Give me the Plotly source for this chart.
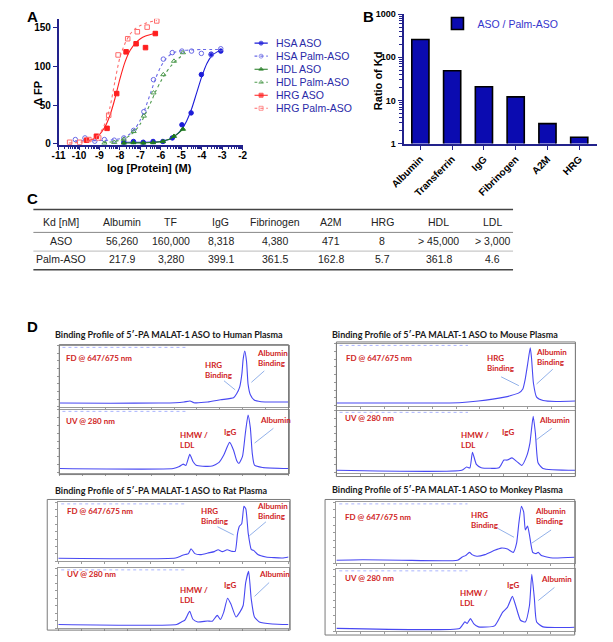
import math
import plotly.graph_objects as go

W, H = 613, 642
FONT = "Liberation Sans, Arial, sans-serif"
DFONT = "Lato, Open Sans, sans-serif"
NAVY = "#22228c"

# ---------------- Panel A data: binding curves ----------------
hsa_aso_x = [-7.81, -7.34, -6.86, -6.38, -5.90, -5.44, -4.97, -4.52, -4.02, -3.54, -3.07]
hsa_aso_y = [2, 3, 2, 3, 3, 7.6, 24.6, 40, 89.6, 116, 120]
hsa_palm_x = [-10.18, -9.71, -9.23, -8.76, -8.28, -7.81, -7.33, -6.83, -6.36, -5.88, -5.44, -4.97, -4.50, -4.02, -3.54, -3.07]
hsa_palm_y = [5.5, 7.6, 3.4, 5.5, 4.7, 7.6, 17.4, 41.6, 83, 109.6, 118, 120, 120, 117, 115, 123]
hdl_aso_x = [-7.81, -7.34, -6.86, -6.38, -5.90, -5.36, -4.92]
hdl_aso_y = [1, 1.5, 1, 1.5, 3, 9.8, 19]
hdl_palm_x = [-8.76, -8.28, -7.81, -7.33, -6.83, -6.36, -5.88, -5.36, -4.92]
hdl_palm_y = [1, 2, 6, 16, 36, 66, 89.6, 107, 118]
hrg_aso_x = [-9.63, -9.15, -8.63, -8.16, -7.70, -7.21, -6.75, -6.27]
hrg_aso_y = [4.7, 9.8, 20, 65, 119, 129.5, 124.5, 142.7]
hrg_palm_x = [-10.46, -9.97, -9.52, -9.04, -8.55, -8.09, -7.62, -7.15, -6.67, -6.20]
hrg_palm_y = [2, 2, 5.5, 7.6, 37, 115, 136, 145, 151, 159]

# fitted curves
hsa_aso_fit_x = [-7.8, -7, -6.5, -6, -5.75, -5.5, -5.25, -5, -4.75, -4.5, -4.25, -4, -3.75, -3.5, -3.25, -3.07]
hsa_aso_fit_y = [2, 2, 2.3, 3, 4.5, 7, 11.5, 18, 29, 45, 66, 87, 104, 114, 119, 121]
hsa_palm_fit_x = [-10.2, -9, -8.5, -8, -7.75, -7.5, -7.25, -7, -6.75, -6.5, -6.25, -6, -5.75, -5.5, -5.25, -5, -4.5, -4, -3.5, -3.07]
hsa_palm_fit_y = [4, 4.2, 4.8, 6.5, 9, 13, 20, 31, 47, 66, 85, 100, 110, 116, 119, 120.5, 121.5, 122, 122, 122]
hdl_aso_fit_x = [-7.8, -7, -6.5, -6, -5.75, -5.5, -5.25, -5, -4.92]
hdl_aso_fit_y = [1, 1.2, 1.6, 2.8, 4.5, 7.3, 11.5, 17, 19.5]
hdl_palm_fit_x = [-8.8, -8.5, -8, -7.75, -7.5, -7.25, -7, -6.75, -6.5, -6.25, -6, -5.75, -5.5, -5.25, -4.92]
hdl_palm_fit_y = [1.5, 2.2, 4.5, 7, 11, 17, 26, 39, 53, 68, 81, 92, 101, 108, 115]
hrg_aso_fit_x = [-9.7, -9.5, -9.25, -9, -8.75, -8.5, -8.25, -8, -7.75, -7.5, -7.25, -7, -6.75, -6.5, -6.27]
hrg_aso_fit_y = [3, 4.5, 7, 12, 21, 36, 58, 84, 106, 121, 130, 136, 139.5, 141.5, 143]
hrg_palm_fit_x = [-10.5, -10, -9.5, -9.25, -9, -8.75, -8.5, -8.25, -8, -7.75, -7.5, -7.25, -7, -6.75, -6.5, -6.2]
hrg_palm_fit_y = [1, 1.8, 4, 7, 13, 25, 46, 80, 112, 130, 142, 149, 153, 156, 158, 159.5]

a_xticks = [-11, -10, -9, -8, -7, -6, -5, -4, -3, -2]
a_yticks = [0, 50, 100, 150]

# ---------------- Panel B data ----------------
ratio_categories = ["Albumin", "Transferrin", "IgG", "Fibrinogen", "A2M", "HRG"]
ratio_values = [258, 48.8, 20.8, 12.1, 2.89, 1.40]
b_yticks = [1, 10, 100, 1000]

# ---------------- Panel C data ----------------
table_header = ["Kd [nM]", "Albumin", "TF", "IgG", "Fibrinogen", "A2M", "HRG", "HDL", "LDL"]
table_aso = ["ASO", "56,260", "160,000", "8,318", "4,380", "471", "8", "> 45,000", "> 3,000"]
table_palm = ["Palm-ASO", "217.9", "3,280", "399.1", "361.5", "162.8", "5.7", "361.8", "4.6"]

# ---------------- Panel D data (retention position 0-30, relative signal 0-100) ----------------
human_fd_x = [0, 6.7, 13.0, 15.2, 16.3, 17.1, 17.6, 19.4, 21.1, 22.8, 23.2, 23.6, 23.9, 24.05, 24.27, 24.5, 24.7, 25.0, 25.5, 26.4, 28.3, 30]
human_fd_y = [6.0, 5.6, 6.0, 6.5, 7.6, 9.2, 6.5, 7.6, 11.3, 14.5, 21, 32, 55, 77, 91, 74, 37, 19.4, 10.8, 8.1, 7.6, 7.6]
human_uv_x = [0, 14.9, 15.7, 16.2, 16.55, 17.06, 17.48, 17.9, 18.76, 20.0, 20.9, 21.5, 22.28, 22.8, 23.2, 23.5, 23.97, 24.35, 24.7, 25.0, 25.25, 25.54, 26.6, 30]
human_uv_y = [6.5, 6.5, 9.7, 13.4, 11.3, 29, 17.7, 11.8, 10.2, 10.5, 16.1, 27.4, 47.9, 35.5, 19.4, 14.5, 25.8, 62.9, 91.3, 71, 30.6, 11.8, 8.1, 6.5]
mouse_fd_x = [0, 8.2, 15.4, 17.8, 21.1, 21.9, 22.9, 23.4, 23.7, 24.0, 24.33, 24.49, 24.73, 25.13, 25.95, 27.57, 30]
mouse_fd_y = [4.3, 4.3, 4.8, 7.5, 13.8, 16.3, 20.6, 27, 42.9, 66.7, 93.2, 77.3, 36.5, 13.8, 8.4, 6.8, 7.5]
mouse_uv_x = [0, 15.72, 16.33, 16.74, 17.07, 17.56, 18.17, 20.41, 21.02, 21.43, 22.04, 22.58, 23.27, 23.88, 24.29, 24.7, 24.98, 25.31, 25.92, 30]
mouse_uv_y = [3.7, 3.7, 9.0, 7.5, 32.9, 13.2, 7.9, 7.9, 20.2, 20.2, 23.8, 18.6, 11.6, 26.5, 47.6, 90.9, 63.5, 15.9, 6.8, 3.7]
rat_fd_x = [0, 15.28, 16.11, 16.54, 16.96, 17.3, 17.8, 18.64, 19.48, 20.33, 20.83, 21.38, 22.0, 22.64, 23.05, 23.36, 23.61, 23.9, 24.19, 24.44, 24.75, 25.16, 25.45, 26.0, 27.06, 29.17, 30]
rat_fd_y = [5, 5.5, 9.5, 11.2, 12.8, 21.2, 12.8, 11.2, 13.8, 16.2, 19.5, 16.2, 19.5, 16.7, 16.7, 47.2, 59.5, 63.3, 92.8, 88.3, 47.2, 19.5, 18.3, 11.2, 7.2, 5.5, 7.2]
rat_uv_x = [0, 15.42, 16.05, 16.48, 17.12, 17.54, 18.17, 19.44, 20.07, 20.71, 21.13, 21.56, 22.06, 22.48, 23.16, 23.66, 24.09, 24.42, 24.8, 25.14, 25.56, 26.2, 27.89, 30]
rat_uv_y = [6.1, 6.1, 10.3, 13.1, 27.9, 14.8, 10.3, 12.0, 11.5, 21.3, 14.3, 26.7, 49.7, 40.5, 18.5, 26.7, 37.7, 75.9, 94.6, 48.7, 18.5, 10.3, 7.0, 6.1]
monkey_fd_x = [0, 3.33, 8.21, 15.24, 15.85, 16.26, 16.75, 17.07, 17.68, 18.70, 19.91, 20.73, 21.54, 22.27, 22.68, 22.96, 23.29, 23.57, 23.78, 24.06, 24.3, 24.71, 25.12, 25.4, 25.8, 27.23, 30]
monkey_fd_y = [4.8, 5.6, 4.8, 4.8, 10.2, 12.4, 17.7, 14.0, 11.3, 14.0, 21.0, 24.7, 23.1, 17.7, 32.7, 65.0, 93.1, 83.9, 54.3, 60.8, 46.3, 17.7, 15.6, 17.7, 12.4, 8.5, 9.7]
monkey_uv_x = [0, 15.52, 15.85, 16.17, 16.46, 16.87, 17.27, 17.88, 19.91, 20.93, 21.54, 22.15, 22.56, 23.17, 23.78, 24.3, 24.59, 24.92, 25.2, 26.01, 30]
monkey_uv_y = [4.3, 4.3, 9.5, 14.8, 12.2, 20.2, 12.2, 6.8, 8.4, 30.6, 38.6, 56.0, 41.3, 17.5, 14.8, 41.3, 91.6, 52.0, 14.8, 6.8, 6.3]


# ---------------- helpers for layout (pixel -> paper) ----------------
def dx(l, r):
    return [l / W, r / W]


def dy(t, b):
    return [1 - b / H, 1 - t / H]


def pxx(x):
    return x / W


def pyy(y):
    return 1 - y / H


fig = go.Figure()
annotations = []
shapes = []

# ================= Panel A =================
series_a = [
    ("HSA ASO", hsa_aso_x, hsa_aso_y, hsa_aso_fit_x, hsa_aso_fit_y, "#1c1cd8", "circle", "solid"),
    ("HSA Palm-ASO", hsa_palm_x, hsa_palm_y, hsa_palm_fit_x, hsa_palm_fit_y, "#6a6ae6", "circle-open", "dot"),
    ("HDL ASO", hdl_aso_x, hdl_aso_y, hdl_aso_fit_x, hdl_aso_fit_y, "#1f7a1f", "triangle-up", "solid"),
    ("HDL Palm-ASO", hdl_palm_x, hdl_palm_y, hdl_palm_fit_x, hdl_palm_fit_y, "#4e9a4e", "triangle-up-open", "dot"),
    ("HRG ASO", hrg_aso_x, hrg_aso_y, hrg_aso_fit_x, hrg_aso_fit_y, "#ff1e1e", "square", "solid"),
    ("HRG Palm-ASO", hrg_palm_x, hrg_palm_y, hrg_palm_fit_x, hrg_palm_fit_y, "#ff6a6a", "square-open", "dot"),
]
for i, (name, xs, ys, fx, fy, col, sym, dash) in enumerate(series_a):
    fig.add_trace(go.Scatter(x=fx, y=fy, mode="lines", line=dict(color=col, width=1.1, dash=dash, shape="spline", smoothing=0.8),
                             xaxis="x", yaxis="y", showlegend=False, hoverinfo="skip"))
    fig.add_trace(go.Scatter(x=xs, y=ys, mode="markers", name=name,
                             marker=dict(color=col, symbol=sym, size=4.5, line=dict(color=col, width=1)),
                             xaxis="x", yaxis="y", showlegend=False))
    # manual legend sample
    fig.add_trace(go.Scatter(x=[0, 0.5, 1], y=[i, i, i], mode="lines+markers",
                             line=dict(color=col, width=1.1, dash=dash),
                             marker=dict(color=col, symbol=sym, size=[0, 4, 0], line=dict(color=col, width=1)),
                             xaxis="x11", yaxis="y11", showlegend=False, hoverinfo="skip"))
    annotations.append(dict(xref="x11", yref="y11", x=1, y=i, xshift=6, text=name, showarrow=False,
                            xanchor="left", yanchor="middle", font=dict(family=FONT, size=10.5, color="#2a2aa8")))

minor_a = [d + math.log10(k) for d in range(-11, -2) for k in range(2, 10)]
axis_font = dict(family=FONT, size=10, color="black", weight="bold")

layout = dict(
    width=W, height=H, margin=dict(l=0, r=0, t=0, b=0),
    paper_bgcolor="white", plot_bgcolor="rgba(0,0,0,0)",
    showlegend=True,
    xaxis=dict(domain=dx(46, 236), range=[-11, -2], anchor="y", showline=True, linecolor=NAVY, linewidth=1.5,
               ticks="outside", ticklen=3, tickwidth=1.2, tickcolor=NAVY, tickmode="array", tickvals=a_xticks,
               ticktext=[str(v) for v in a_xticks], tickfont=axis_font, showgrid=False, zeroline=False,
               ticklabelstandoff=-3,
               minor=dict(tickmode="array", tickvals=minor_a, ticks="outside", ticklen=2.5, tickcolor=NAVY, tickwidth=1)),
    yaxis=dict(domain=dy(14, 142), range=[-1.27, 161.8], anchor="x", showline=True, linecolor=NAVY, linewidth=1.5,
               ticks="outside", ticklen=4, tickwidth=1.2, tickcolor=NAVY, tickmode="array", tickvals=a_yticks,
               tickfont=axis_font, showgrid=False, zeroline=False),
    xaxis11=dict(domain=dx(248, 262), range=[0, 1], anchor="y11", visible=False, fixedrange=True),
    yaxis11=dict(domain=dy(32, 118), range=[5.99, -0.51], anchor="x11", visible=False, fixedrange=True),
)
annotations.append(dict(xref="paper", yref="paper", x=pxx(140), y=pyy(166), text="log [Protein] (M)", showarrow=False,
                        font=dict(family=FONT, size=11, color="black", weight="bold"), xanchor="center", yanchor="middle"))
annotations.append(dict(xref="paper", yref="paper", x=pxx(24), y=pyy(90), text="Δ FP", showarrow=False, textangle=-90,
                        font=dict(family=FONT, size=11, color="black", weight="bold"), xanchor="center", yanchor="middle"))

# ================= Panel B =================
fig.add_trace(go.Bar(x=ratio_categories, y=ratio_values, name="ASO / Palm-ASO", width=0.54,
                     marker=dict(color="#0b0bb0", line=dict(color="black", width=1.6)),
                     xaxis="x2", yaxis="y2", legend="legend2", showlegend=True))
minor_b = [k * 10 ** d for d in range(0, 3) for k in range(2, 10)]
b_font = dict(family=FONT, size=9, color="black", weight="bold")
layout.update(
    xaxis2=dict(domain=dx(402, 602), range=[-0.53, 5.57], anchor="y2", showline=True, linecolor=NAVY, linewidth=2,
                ticks="outside", ticklen=4, tickcolor=NAVY, tickwidth=1.2, tickangle=-45,
                tickfont=dict(family=FONT, size=10, color="black", weight="bold"),
                showgrid=False, zeroline=False),
    yaxis2=dict(domain=dy(9.3, 140.7), type="log", range=[0, 3], anchor="x2", showline=True, linecolor=NAVY, linewidth=2,
                ticks="outside", ticklen=4, tickcolor=NAVY, tickwidth=1.2, tickmode="array", tickvals=b_yticks,
                ticktext=[str(v) for v in b_yticks], tickfont=b_font, showgrid=False, zeroline=False,
                minor=dict(tickmode="array", tickvals=minor_b, ticks="outside", ticklen=2.5, tickcolor=NAVY, tickwidth=1)),
    legend2=dict(x=pxx(437), y=pyy(4), xanchor="left", yanchor="top", bgcolor="rgba(0,0,0,0)",
                 font=dict(family=FONT, size=10.5, color="#3434cc")),
)
annotations.append(dict(xref="paper", yref="paper", x=pxx(375), y=pyy(77), text="Ratio of Kd", showarrow=False, textangle=-90,
                        font=dict(family=FONT, size=11, color="black", weight="bold"), xanchor="center", yanchor="middle"))

# ================= Panel C: table =================
col_x = [48.3, 111, 161.7, 213.3, 269.3, 326.7, 380, 438.3, 493.3]
row_y = [220, 240, 258.3]
for r, row in enumerate([table_header, table_aso, table_palm]):
    for c, txt in enumerate(row):
        annotations.append(dict(xref="paper", yref="paper", x=pxx(col_x[c]), y=pyy(row_y[r]), text=txt, showarrow=False,
                                xanchor="center", yanchor="middle", font=dict(family=FONT, size=10.5, color="#222222")))
for yy, lw, col in [(207.7, 1.6, "#444444"), (231, 1.0, "#888888"), (250, 0.8, "#aaaaaa"), (269, 1.6, "#444444")]:
    shapes.append(dict(type="line", xref="paper", yref="paper", x0=pxx(20), x1=pxx(515), y0=pyy(yy), y1=pyy(yy),
                       line=dict(color=col, width=lw)))

# ================= Panel D: chromatograms =================
d_panels = [
    dict(title="Binding Profile of 5′-PA MALAT-1 ASO to Human Plasma", tx=160, ty=335,
         box=(46.7, 345, 283.3, 477), fd=(47, 346, 283.3, 408), uv=(47, 411, 283.3, 475),
         fdxy=(human_fd_x, human_fd_y), uvxy=(human_uv_x, human_uv_y),
         fdl=(51.7, 358.3), hrg=(195, 371), albf=(248.3, 358.3), uvl=(51.7, 422.3), hmw=(169.3, 442.3),
         igg=(215, 434), albu=(251.7, 421.7),
         p1=(216.7, 381.7, 228.3, 391), p2=(258.3, 371.7, 245, 383.3), p3=(267.7, 430, 248.3, 445)),
    dict(title="Binding Profile of 5′-PA MALAT-1 ASO to Mouse Plasma", tx=445, ty=334.3,
         box=(332.7, 342.3, 579.3, 479), fd=(333, 344, 579.3, 407), uv=(333, 412, 579.3, 475),
         fdxy=(mouse_fd_x, mouse_fd_y), uvxy=(mouse_uv_x, mouse_uv_y),
         fdl=(341, 358.3), hrg=(486, 363.3), albf=(537, 357.7), uvl=(340, 420), hmw=(459, 442.3),
         igg=(501.7, 434), albu=(540, 421.7),
         p1=(502.7, 377.7, 521, 386.7), p2=(556, 370, 539.3, 385), p3=(555, 430, 538.3, 442.3)),
    dict(title="Binding Profile of 5′-PA MALAT-1 ASO to Rat Plasma", tx=151.2, ty=492.7,
         box=(34.3, 502.3, 285, 635), fd=(45.7, 505, 283.3, 565), uv=(45.7, 572, 283.3, 633),
         fdxy=(rat_fd_x, rat_fd_y), uvxy=(rat_uv_x, rat_uv_y),
         fdl=(52.7, 514.3), hrg=(190.7, 518.8), albf=(248.3, 514.2), uvl=(52.7, 578.3), hmw=(169.3, 599),
         igg=(214.3, 589), albu=(250.7, 578.3),
         p1=(210, 530, 226.7, 538.3), p2=(260, 525, 242.7, 539.3), p3=(263.3, 586.7, 248.3, 600.7)),
    dict(title="Binding Profile of 5′-PA MALAT-1 ASO to Monkey Plasma", tx=447.7, ty=491.7,
         box=(321, 502.3, 578.7, 640), fd=(332.7, 505, 578.7, 567), uv=(332.7, 573, 578.7, 636),
         fdxy=(monkey_fd_x, monkey_fd_y), uvxy=(monkey_uv_x, monkey_uv_y),
         fdl=(339.3, 520), hrg=(469.3, 522.7), albf=(536, 518.7), uvl=(339.3, 582.3), hmw=(457.7, 602.7),
         igg=(506.7, 589.3), albu=(541.3, 583.3),
         p1=(499.3, 531.7, 516, 540.7), p2=(554.3, 533.3, 534.3, 546.7), p3=(557.7, 591.7, 541, 605)),
]

RED = "#cf2424"
LBLUE = "#86a8e6"
ax_n = 3
for p in d_panels:
    bl, bt, br, bb = p["box"]
    shapes.append(dict(type="rect", xref="paper", yref="paper", x0=pxx(bl), x1=pxx(br), y0=pyy(bb), y1=pyy(bt),
                       line=dict(color="#7a7a7a", width=1)))
    annotations.append(dict(xref="paper", yref="paper", x=pxx(p["tx"]), y=pyy(p["ty"]), text=p["title"], showarrow=False,
                            xanchor="center", yanchor="middle", font=dict(family=DFONT, size=9, color="#1a1a1a", weight="bold")))
    for key, xy in (("fd", p["fdxy"]), ("uv", p["uvxy"])):
        l, t, r, b = p[key]
        xa, ya = "x%d" % ax_n, "y%d" % ax_n
        layout["xaxis%d" % ax_n] = dict(domain=dx(l, r), range=[0, 30], anchor=ya, showline=True, mirror=True,
                                        linecolor="#9a9a9a", linewidth=1, ticks="outside", ticklen=2, tickcolor="#9a9a9a",
                                        dtick=3, showticklabels=False, showgrid=False, zeroline=False)
        layout["yaxis%d" % ax_n] = dict(domain=dy(t, b), range=[0, 100], anchor=xa, showline=True, mirror=True,
                                        linecolor="#9a9a9a", linewidth=1, ticks="outside", ticklen=2, tickcolor="#9a9a9a",
                                        dtick=12.5, showticklabels=False, showgrid=False, zeroline=False)
        fig.add_trace(go.Scatter(x=xy[0], y=xy[1], mode="lines", xaxis=xa, yaxis=ya, showlegend=False,
                                 line=dict(color="#4848f2", width=1.1, shape="spline", smoothing=0.5), hoverinfo="skip"))
        # faint header strip (instrument file info)
        shapes.append(dict(type="line", xref="paper", yref="paper", x0=pxx(l + 3), x1=pxx(l + 0.55 * (r - l)),
                           y0=pyy(t + 1.8), y1=pyy(t + 1.8), line=dict(color="#aab4ff", width=1, dash="dot")))
        ax_n += 1
    lab_font = dict(family=DFONT, size=8, color=RED, weight="bold")
    for key, txt in (("fdl", "FD @ 647/675 nm"), ("hrg", "HRG<br>Binding"), ("albf", "Albumin<br>Binding"),
                     ("uvl", "UV @ 280 nm"), ("hmw", "HMW /<br>LDL"), ("igg", "IgG"), ("albu", "Albumin")):
        x0, y0 = p[key]
        annotations.append(dict(xref="paper", yref="paper", x=pxx(x0), y=pyy(y0), text=txt, showarrow=False,
                                xanchor="left", yanchor="middle", align="left", font=lab_font))
    for key in ("p1", "p2", "p3"):
        x0, y0, x1, y1 = p[key]
        shapes.append(dict(type="line", xref="paper", yref="paper", x0=pxx(x0), y0=pyy(y0), x1=pxx(x1), y1=pyy(y1),
                           line=dict(color=LBLUE, width=0.9)))

# ================= Panel letters =================
for letter, (x0, y0) in {"A": (11, 12), "B": (358, 12), "C": (11, 197), "D": (11, 327)}.items():
    annotations.append(dict(xref="paper", yref="paper", x=pxx(x0), y=pyy(y0), text=letter, showarrow=False,
                            xanchor="left", yanchor="middle", font=dict(family=FONT, size=15, color="black", weight="bold")))

layout["annotations"] = annotations
layout["shapes"] = shapes
fig.update_layout(**layout)

fig.write_html("out.html", config={"displayModeBar": False},
               post_script="document.body.style.margin='0px';")
